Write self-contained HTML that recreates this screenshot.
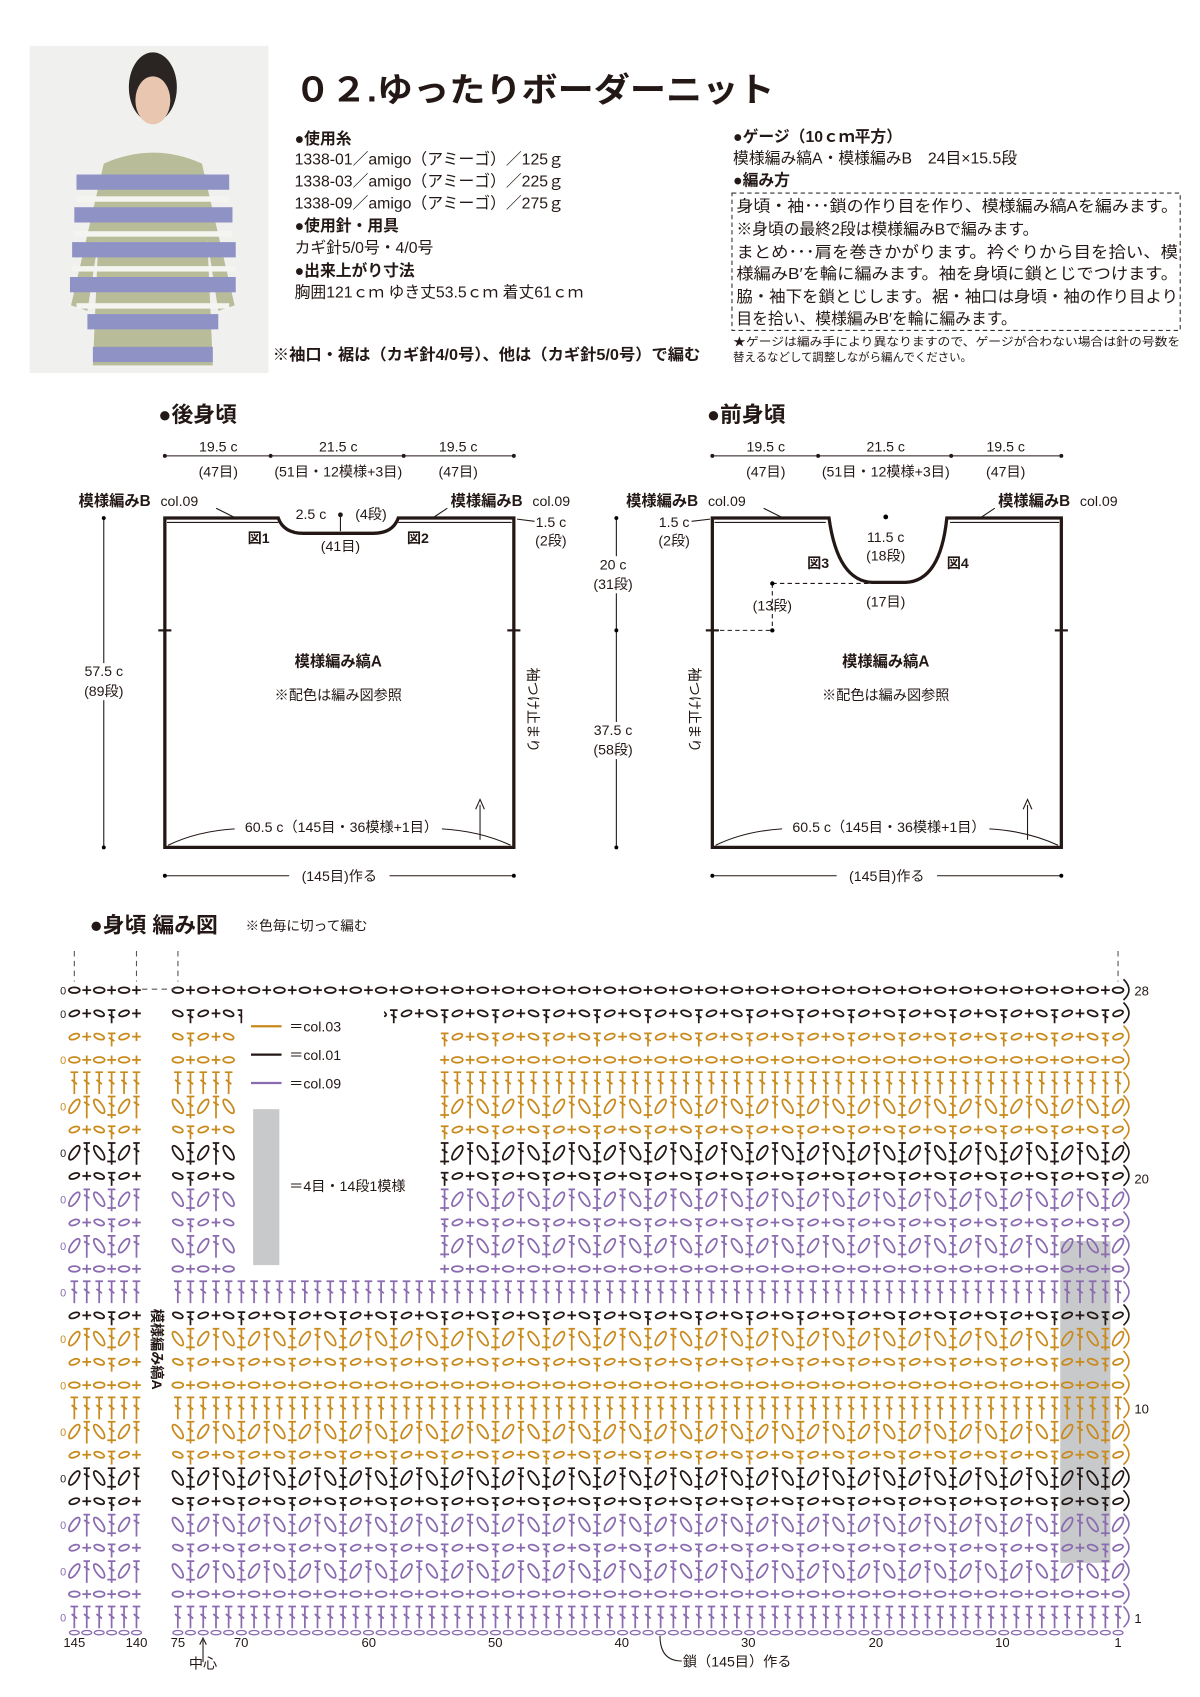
<!DOCTYPE html>
<html><head><meta charset="utf-8">
<style>
html,body{margin:0;padding:0;background:#fff;}
svg{display:block;}
text{font-family:"Liberation Sans","Noto Sans CJK JP",sans-serif;fill:#231815;}
.b{font-weight:bold;}
</style></head>
<body>
<svg id="s" width="1200" height="1697" viewBox="0 0 1100 1556" xmlns="http://www.w3.org/2000/svg">
<rect x="27" y="42" width="219" height="300" fill="#f0f0ee"/>
<ellipse cx="140" cy="80" rx="22" ry="32" fill="#2a2422"/>
<ellipse cx="140" cy="92" rx="16" ry="22" fill="#e8c6b0"/>
<path d="M95 150 Q140 130 185 150 L215 280 L200 285 L190 220 L195 335 L85 335 L90 220 L80 285 L65 280 Z" fill="#b9bc98"/>
<g fill="#8f92c4">
<rect x="70" y="160" width="140" height="14"/><rect x="68" y="190" width="145" height="14"/><rect x="66" y="222" width="150" height="14"/><rect x="64" y="254" width="152" height="14"/><rect x="80" y="288" width="120" height="14"/><rect x="85" y="318" width="110" height="14"/></g>
<g fill="#f4f4f0"><rect x="70" y="180" width="140" height="5"/><rect x="68" y="212" width="145" height="5"/><rect x="66" y="244" width="150" height="5"/><rect x="70" y="278" width="140" height="5"/></g>

<text x="270" y="93" font-size="31" class="b" textLength="440" lengthAdjust="spacingAndGlyphs">０２.ゆったりボーダーニット</text>
<g font-size="14.5">
<text x="270" y="132" class="b">●使用糸</text>
<text x="270" y="151">1338-01／amigo（アミーゴ）／125ｇ</text>
<text x="270" y="171">1338-03／amigo（アミーゴ）／225ｇ</text>
<text x="270" y="191">1338-09／amigo（アミーゴ）／275ｇ</text>
<text x="270" y="212" class="b">●使用針・用具</text>
<text x="270" y="232">カギ針5/0号・4/0号</text>
<text x="270" y="253" class="b">●出来上がり寸法</text>
<text x="270" y="273">胸囲121ｃｍ ゆき丈53.5ｃｍ 着丈61ｃｍ</text>
<text x="250" y="330" class="b" textLength="392" lengthAdjust="spacingAndGlyphs">※袖口・裾は（カギ針4/0号）、他は（カギ針5/0号）で編む</text>
<text x="672" y="130" class="b">●ゲージ（10ｃｍ平方）</text>
<text x="672" y="150">模様編み縞A・模様編みB　24目×15.5段</text>
<text x="672" y="170" class="b">●編み方</text>
<text x="675" y="194" textLength="405" lengthAdjust="spacingAndGlyphs">身頃・袖･･･鎖の作り目を作り、模様編み縞Aを編みます。</text>
<text x="675" y="215">※身頃の最終2段は模様編みBで編みます。</text>
<text x="675" y="236" textLength="405" lengthAdjust="spacingAndGlyphs">まとめ･･･肩を巻きかがります。衿ぐりから目を拾い、模</text>
<text x="675" y="256" textLength="405" lengthAdjust="spacingAndGlyphs">様編みB′を輪に編みます。袖を身頃に鎖とじでつけます。</text>
<text x="675" y="277" textLength="405" lengthAdjust="spacingAndGlyphs">脇・袖下を鎖とじします。裾・袖口は身頃・袖の作り目より</text>
<text x="675" y="297">目を拾い、模様編みB′を輪に編みます。</text>
</g>
<rect x="671" y="177" width="411" height="126" fill="none" stroke="#333" stroke-dasharray="4,3"/>
<text x="672" y="317" font-size="10.5" textLength="410" lengthAdjust="spacingAndGlyphs">★ゲージは編み手により異なりますので、ゲージが合わない場合は針の号数を</text>
<text x="672" y="331" font-size="10.5">替えるなどして調整しながら編んでください。</text>

<text x="145" y="387" font-size="20" class="b">●後身頃</text>
<text x="648" y="387" font-size="20" class="b">●前身頃</text>
<g id="sch"></g>

<text x="82" y="855" font-size="20" class="b">●身頃 編み図</text>
<text x="225" y="853" font-size="12.5">※色毎に切って編む</text>
<g id="chart"></g>
</svg>
<script>
function add(g,html){document.getElementById(g).insertAdjacentHTML('beforeend',html);}
var sc='';
function T(x,y,t,sz,anchor,cls){return '<text x="'+x+'" y="'+y+'" font-size="'+(sz||13)+'" text-anchor="'+(anchor||'middle')+'"'+(cls?' class="'+cls+'"':'')+'>'+t+'</text>';}
function L(x1,y1,x2,y2,w,dash){return '<line x1="'+x1+'" y1="'+y1+'" x2="'+x2+'" y2="'+y2+'" stroke="#231815" stroke-width="'+(w||1)+'"'+(dash?' stroke-dasharray="4,3"':'')+'/>';}
[0,502].forEach(function(o,k){
 var X=function(v){return v+o;};
 sc+=L(X(151),418,X(471),418);
 [151,248,370,471].forEach(function(v){sc+='<circle cx="'+X(v)+'" cy="418" r="1.8" fill="#231815"/>';});
 sc+=T(X(200),414,'19.5 c')+T(X(200),437,'(47目)')+T(X(310),414,'21.5 c')+T(X(310),437,'(51目・12模様+3目)')+T(X(420),414,'19.5 c')+T(X(420),437,'(47目)');
 sc+=L(X(151),803,X(265),803)+L(X(357),803,X(471),803)+T(X(311),808,'(145目)作る');
 sc+='<circle cx="'+X(151)+'" cy="803" r="1.8"/><circle cx="'+X(471)+'" cy="803" r="1.8"/>';
 var x0=X(151),x1=X(471);
 var path = k==0 ? 'M151 777 L151 475 L255 475 Q260 489 278 489 L342 489 Q360 489 365 475 L471 475 L471 777 Z' : 'M653 777 L653 475 L760 475 Q768 533 800 534 L830 534 Q862 533 868 475 L973 475 L973 777 Z';
 sc+='<path d="'+path+'" fill="none" stroke="#231815" stroke-width="3"/>';
 if(k==0){sc+=L(153,479,255,479,1)+L(365,479,469,479,1);}else{sc+=L(655,479,757,479,1)+L(871,479,971,479,1);}
 sc+=L(x0-6,578,x0+6,578,2)+L(x1-6,578,x1+6,578,2);
 sc+=T(X(310),611,'模様編み縞A',14,'middle','b')+T(X(310),642,'※配色は編み図参照',13);
 sc+='<path d="M'+(x0+3)+' 775 Q'+(x0+30)+' 762 '+X(215)+' 760" fill="none" stroke="#231815"/><path d="M'+X(405)+' 760 Q'+X(440)+' 762 '+(x1-3)+' 775" fill="none" stroke="#231815"/>';
 sc+=T(X(313),763,'60.5 c（145目・36模様+1目）',13);
 sc+=L(X(440),770,X(440),738)+'<path d="M'+(X(440)-4)+' 742 L'+X(440)+' 733 L'+(X(440)+4)+' 742" fill="none" stroke="#231815"/>';
 sc+=T(X(72),464,'模様編みB',14,'start','b')+T(X(147),464,'col.09',13,'start');
 sc+=T(X(413),464,'模様編みB',14,'start','b')+T(X(488),464,'col.09',13,'start');
 sc+=L(X(198),466,X(218),476)+L(X(410),466,X(395),476);
});
sc+=T(285,476,'2.5 c')+'<circle cx="312" cy="472" r="2.2" fill="#231815"/>'+L(312,472,312,487)+T(340,476,'(4段)');
sc+=T(312,505,'(41目)')+T(237,498,'図1',13,'middle','b')+T(383,498,'図2',13,'middle','b');
sc+=T(505,483,'1.5 c')+T(505,500,'(2段)')+L(474,476,490,478);
sc+=L(95,475,95,777)+'<circle cx="95" cy="475" r="1.8"/><circle cx="95" cy="777" r="1.8"/>';
sc+='<rect x="76" y="608" width="38" height="34" fill="#fff"/>'+T(95,620,'57.5 c')+T(95,638,'(89段)');
sc+='<text x="0" y="0" font-size="13" transform="translate(484,612) rotate(90)">袖つけ止まり</text>';
sc+='<circle cx="812" cy="474" r="2.2"/>'+T(812,497,'11.5 c')+T(812,514,'(18段)')+T(812,556,'(17目)');
sc+=T(750,521,'図3',13,'middle','b')+T(878,521,'図4',13,'middle','b');
sc+=L(708,535,800,535,1,1)+L(708,535,708,578,1,1)+L(653,578,708,578,1,1)+'<circle cx="708" cy="535" r="2"/><circle cx="708" cy="578" r="2"/>'+T(708,560,'(13段)');
sc+=T(618,483,'1.5 c')+T(618,500,'(2段)')+L(634,478,651,476);
sc+=L(565,475,565,777)+'<circle cx="565" cy="475" r="1.8"/><circle cx="565" cy="578" r="1.8"/><circle cx="565" cy="777" r="1.8"/>';
sc+='<rect x="543" y="510" width="42" height="34" fill="#fff"/>'+T(562,522,'20 c')+T(562,540,'(31段)');
sc+='<rect x="540" y="662" width="44" height="34" fill="#fff"/>'+T(562,674,'37.5 c')+T(562,692,'(58段)');
sc+='<text x="0" y="0" font-size="13" transform="translate(632,612) rotate(90)">袖つけ止まり</text>';
add('sch',sc);

var O='#c98a1c',K='#231815',P='#8a6bb0';
function rowColor(r){
 var m={1:P,2:P,3:P,4:P,5:P,6:K,7:K,8:O,9:O,10:O,11:O,12:O,13:O,14:K,15:P,16:P,17:P,18:P,19:P,20:K,21:K,22:O,23:O,24:O,25:O,26:O,27:K,28:K};return m[r];}
function rowType(r){
 var k=(r-1)%14;
 if(r==28) return 'ch';
 if(r==27) return 'mix';
 if(k==0||k==9) return 'dc';
 if(k==1||k==10) return 'ch';
 if(k%2==0) return 'fan';
 return 'mix';
}
function f(v){return (Math.round(v*10)/10);}
function stitch(x,y,t,i,col){
 var s='';
 var st='stroke="'+col+'" stroke-width="1.6" fill="none"';
 function p(d){return '<path d="'+d+'" '+st+'/>';}
 if(t=='dc'){
  s+=p('M'+f(x)+' '+f(y+10)+' L'+f(x)+' '+f(y-10)+' M'+f(x-3.5)+' '+f(y-10)+' L'+f(x+3.5)+' '+f(y-10)+' M'+f(x-2.5)+' '+f(y-3)+' L'+f(x+2.5)+' '+f(y+1));
 } else if(t=='ch'){
  if(i%2==0) s+=p('M'+f(x-4)+' '+f(y)+' L'+f(x+4)+' '+f(y)+' M'+f(x)+' '+f(y-4)+' L'+f(x)+' '+f(y+4));
  else s+='<ellipse cx="'+f(x)+'" cy="'+f(y)+'" rx="5" ry="2.6" '+st+'/>';
 } else if(t=='mix'){
  var m=i%4;
  if(m==0) s+=p('M'+f(x-4)+' '+f(y)+' L'+f(x+4)+' '+f(y)+' M'+f(x)+' '+f(y-4)+' L'+f(x)+' '+f(y+4));
  else if(m==2) s+=p('M'+f(x-3.5)+' '+f(y-3)+' L'+f(x+3.5)+' '+f(y-3)+' M'+f(x)+' '+f(y-3)+' L'+f(x)+' '+f(y+9)+' M'+f(x-2.5)+' '+f(y+1)+' L'+f(x+2.5)+' '+f(y+4));
  else s+='<ellipse cx="'+f(x)+'" cy="'+f(y)+'" rx="4.8" ry="2.4" transform="rotate('+(m==1?-20:20)+' '+f(x)+' '+f(y)+')" '+st+'/>';
 } else {
  var m=i%4;
  if(m==0) s+=p('M'+f(x)+' '+f(y+11)+' L'+f(x)+' '+f(y-9)+' M'+f(x-3)+' '+f(y-9)+' L'+f(x+3)+' '+f(y-9)+' M'+f(x-2.5)+' '+f(y-4)+' L'+f(x+2.5)+' '+f(y-1));
  else if(m==2) s+=p('M'+f(x)+' '+f(y-9)+' L'+f(x)+' '+f(y+11)+' M'+f(x-4)+' '+f(y+8)+' L'+f(x+4)+' '+f(y+8)+' M'+f(x-3.5)+' '+f(y-9)+' L'+f(x+3.5)+' '+f(y-9)+' M'+f(x-2.5)+' '+f(y-3)+' L'+f(x+2.5)+' '+f(y));
  else s+='<ellipse cx="'+f(x)+'" cy="'+f(y)+'" rx="3" ry="7.5" transform="rotate('+(m==1?35:-35)+' '+f(x)+' '+f(y)+')" '+st+'/>';
 }
 return s;
}
var c='';
c+='<rect x="232" y="1012" width="24" height="148" fill="#c8c9ca"/>';
c+='<rect x="972" y="1138" width="46" height="295" fill="#c8c9ca"/>';
for(var r=1;r<=28;r++){
 var y=1483-(r-1)*21.3, col=rowColor(r), t=rowType(r);
 for(var i=1;i<=75;i++){
  var x=1025-(i-1)*11.65;
  if(r>=16&&r<=26&&x>214&&x<402) continue;
  c+=stitch(x,y,t,i,col);
 }
 for(var j=140;j<=145;j++){
  var x=125-(j-140)*11.4;
  c+=stitch(x,y,t,j,col);
 }
 if(r%2==1||r==28) c+='<text x="55" y="'+f(y+4)+'" font-size="10" style="fill:'+col+'">0</text>';
 c+='<path d="M1030 '+f(y+9)+' Q1040 '+f(y)+' 1030 '+f(y-10)+'" stroke="'+col+'" stroke-width="1.5" fill="none"/>';
}
for(var i=0;i<75;i++){c+='<ellipse cx="'+f(1025-i*11.65)+'" cy="1497" rx="4.5" ry="2" fill="none" stroke="'+P+'" stroke-width="1.2"/>';}
for(var i=0;i<6;i++){c+='<ellipse cx="'+f(125-i*11.4)+'" cy="1497" rx="4.5" ry="2" fill="none" stroke="'+P+'" stroke-width="1.2"/>';}
[68,125,163,1025].forEach(function(x){c+='<line x1="'+x+'" y1="872" x2="'+x+'" y2="900" stroke="#555" stroke-dasharray="5,4"/>';});
c+='<line x1="130" y1="907" x2="160" y2="907" stroke="#555" stroke-dasharray="5,4"/>';
c+='<rect x="222" y="922" width="130" height="95" fill="#fff"/>';
c+='<line x1="230" y1="941" x2="258" y2="941" stroke="'+O+'" stroke-width="2"/><text x="265" y="946" font-size="13">＝col.03</text>';
c+='<line x1="230" y1="967" x2="258" y2="967" stroke="'+K+'" stroke-width="2"/><text x="265" y="972" font-size="13">＝col.01</text>';
c+='<line x1="230" y1="993" x2="258" y2="993" stroke="'+P+'" stroke-width="2"/><text x="265" y="998" font-size="13">＝col.09</text>';
c+='<text x="265" y="1092" font-size="13">＝4目・14段1模様</text>';
c+='<text x="1040" y="913" font-size="12">28</text><text x="1040" y="1085" font-size="12">20</text><text x="1040" y="1296" font-size="12">10</text><text x="1040" y="1488" font-size="12">1</text>';
var nums=[[68,'145'],[125,'140'],[163,'75'],[221,'70'],[338,'60'],[454,'50'],[570,'40'],[686,'30'],[803,'20'],[919,'10'],[1025,'1']];
nums.forEach(function(n){c+='<text x="'+n[0]+'" y="1510" font-size="12" text-anchor="middle">'+n[1]+'</text>';});
c+='<line x1="186" y1="1524" x2="186" y2="1504" stroke="#231815"/><path d="M183 1508 L186 1502 L189 1508" fill="none" stroke="#231815"/>';
c+='<text x="186" y="1530" font-size="13" text-anchor="middle">中心</text>';
c+='<path d="M605 1500 Q605 1523 625 1523" fill="none" stroke="#231815"/><text x="626" y="1528" font-size="13">鎖（145目）作る</text>';
c+='<rect x="136" y="1195" width="16" height="100" fill="#fff"/><text x="0" y="0" font-size="13" class="b" transform="translate(139,1200) rotate(90)">模様編み縞A</text>';
add('chart',c);
</script>
</body></html>
